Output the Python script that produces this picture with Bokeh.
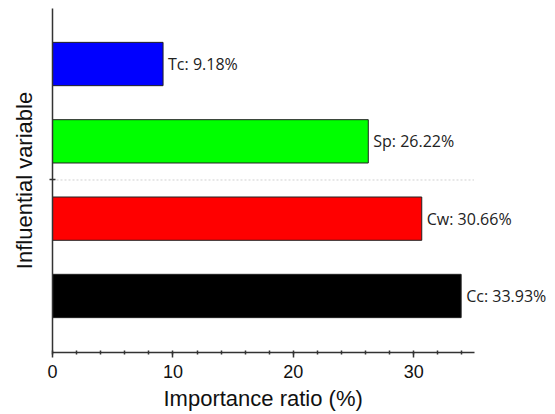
from bokeh.plotting import figure
from bokeh.models import ColumnDataSource, Range1d, SingleIntervalTicker, FixedTicker, Title
from bokeh.core.properties import value
from bokeh.embed import file_html
from bokeh.resources import INLINE

# ---- data ----
categories = ["Cc", "Cw", "Sp", "Tc"]
values = [33.93, 30.66, 26.22, 9.18]
colors = ["#000000", "#ff0000", "#00ff00", "#0000ff"]
positions = [1, 2, 3, 4]
y_tick = [2.5]
x_axis_max = 35
x_label = "Importance ratio (%)"
y_label = "Influential variable"

labels = [f"{c}: {v:.2f}%" for c, v in zip(categories, values)]
src = ColumnDataSource(dict(pos=positions, val=values, color=colors, label=labels))

y_lo, y_hi = 0.269, 4.718

p = figure(frame_width=495, frame_height=344, output_backend="svg", toolbar_location=None,
           x_range=Range1d(0, 41.1), y_range=Range1d(y_lo, y_hi),
           min_border_left=52, min_border_right=0, min_border_top=8,
           min_border_bottom=0)
p.outline_line_color = None
p.xgrid.visible = False
p.ygrid.visible = False

# dotted grid line at the y tick, limited to the x-axis extent
p.segment(x0=0, x1=x_axis_max, y0=y_tick[0], y1=y_tick[0],
          line_color="#d0d0d0", line_dash="2 2", line_width=1)

p.hbar(y="pos", right="val", left=0, height=0.56, fill_color="color",
       line_color="#222222", line_width=1, source=src)

p.text(x="val", y="pos", text="label", x_offset=5, text_baseline="middle",
       text_align="left", text_font=value("Open Sans"), text_font_size="16px",
       text_color="#222222", source=src)

ax = p.xaxis[0]
ax.ticker = SingleIntervalTicker(interval=10, num_minor_ticks=5)
ax.bounds = (0, x_axis_max)
ax.axis_line_color = "#333333"
ax.axis_line_width = 1.5
ax.major_tick_line_color = "#333333"
ax.major_tick_line_width = 1.5
ax.major_tick_in = 0
ax.major_tick_out = 5
ax.minor_tick_line_color = "#333333"
ax.minor_tick_line_width = 1.5
ax.minor_tick_in = 2
ax.minor_tick_out = 2
ax.major_label_text_font = "Liberation Sans"
ax.major_label_text_font_size = "18px"
ax.major_label_text_color = "#111111"
ax.major_label_standoff = 7

ay = p.yaxis[0]
ay.ticker = FixedTicker(ticks=y_tick)
ay.major_label_overrides = {2.5: " "}
ay.major_label_text_font_size = "10px"
ay.axis_line_color = "#333333"
ay.axis_line_width = 1.5
ay.major_tick_line_color = "#333333"
ay.major_tick_line_width = 1.5
ay.major_tick_in = 3
ay.major_tick_out = 3
ay.minor_tick_line_color = None
ay.axis_label = y_label
ay.axis_label_text_font = "Liberation Sans"
ay.axis_label_text_font_size = "22px"
ay.axis_label_text_font_style = "normal"
ay.axis_label_text_color = "#111111"
ay.axis_label_standoff = 2

p.add_layout(Title(text=x_label, align="left", offset=111, standoff=7,
                   text_font="Liberation Sans", text_font_size="22px",
                   text_font_style="normal", text_color="#111111"), "below")

open("out.html", "w").write(file_html(p, INLINE))
